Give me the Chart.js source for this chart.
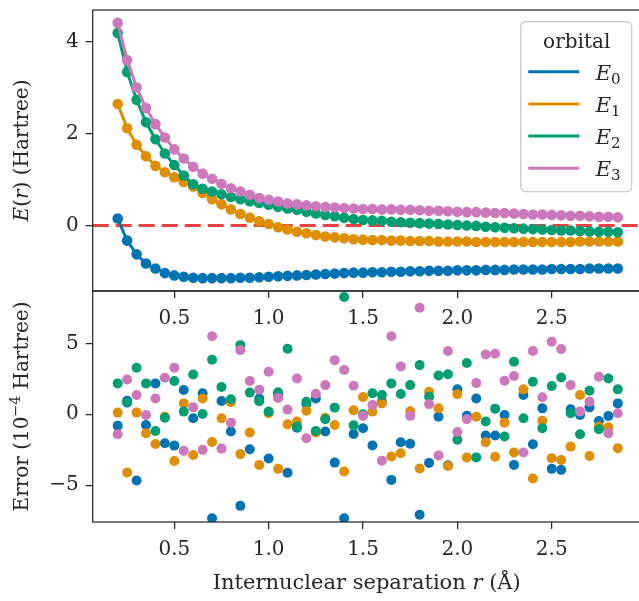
<!DOCTYPE html>
<html><head><meta charset="utf-8">
<script src="https://cdn.jsdelivr.net/npm/chart.js@4/dist/chart.umd.min.js"></script>
<style>
html,body{margin:0;padding:0;background:#fff;}
#wrap{position:relative;width:639px;height:601px;overflow:hidden;background:#fff;}
#wrap canvas{position:absolute;left:0;top:0;}
</style></head><body>
<div id="wrap">
<canvas id="cb" width="660" height="601"></canvas>
<canvas id="ct" width="660" height="601"></canvas>
</div>
<script>
// ---------------- data ----------------
const separations = [0.20,0.25,0.30,0.35,0.40,0.45,0.50,0.55,0.60,0.65,0.70,0.75,0.80,0.85,0.90,0.95,1.00,1.05,1.10,1.15,1.20,1.25,1.30,1.35,1.40,1.45,1.50,1.55,1.60,1.65,1.70,1.75,1.80,1.85,1.90,1.95,2.00,2.05,2.10,2.15,2.20,2.25,2.30,2.35,2.40,2.45,2.50,2.55,2.60,2.65,2.70,2.75,2.80,2.85];
const seriesLabels = ['0','1','2','3'];
const energyE0 = [0.15,-0.33,-0.63,-0.83,-0.94,-1.04,-1.09,-1.12,-1.14,-1.15,-1.15,-1.15,-1.15,-1.14,-1.14,-1.13,-1.12,-1.11,-1.10,-1.09,-1.08,-1.07,-1.06,-1.05,-1.04,-1.03,-1.03,-1.02,-1.02,-1.01,-1.01,-1.00,-1.00,-0.99,-0.99,-0.99,-0.98,-0.98,-0.98,-0.97,-0.97,-0.97,-0.96,-0.96,-0.96,-0.96,-0.95,-0.95,-0.95,-0.95,-0.94,-0.94,-0.94,-0.94];
const energyE1 = [2.65,2.12,1.76,1.51,1.30,1.16,1.05,0.95,0.85,0.71,0.57,0.46,0.35,0.25,0.17,0.09,0.03,-0.04,-0.09,-0.14,-0.17,-0.21,-0.24,-0.26,-0.28,-0.30,-0.31,-0.32,-0.32,-0.33,-0.33,-0.34,-0.34,-0.34,-0.35,-0.35,-0.35,-0.35,-0.36,-0.36,-0.36,-0.36,-0.36,-0.36,-0.36,-0.36,-0.36,-0.36,-0.36,-0.35,-0.35,-0.35,-0.35,-0.35];
const energyE2 = [4.20,3.35,2.74,2.25,1.88,1.57,1.32,1.09,0.90,0.80,0.74,0.68,0.62,0.57,0.53,0.49,0.45,0.41,0.37,0.34,0.30,0.26,0.23,0.20,0.17,0.14,0.12,0.11,0.10,0.08,0.07,0.06,0.05,0.04,0.03,0.02,0.01,0.00,-0.01,-0.03,-0.04,-0.05,-0.06,-0.07,-0.08,-0.09,-0.10,-0.11,-0.11,-0.12,-0.13,-0.14,-0.14,-0.15];
const energyE3 = [4.42,3.61,3.01,2.56,2.21,1.92,1.66,1.46,1.28,1.13,1.02,0.91,0.81,0.74,0.67,0.60,0.56,0.52,0.48,0.46,0.44,0.42,0.40,0.39,0.38,0.37,0.36,0.36,0.35,0.35,0.34,0.34,0.33,0.32,0.32,0.31,0.30,0.29,0.29,0.28,0.27,0.27,0.26,0.25,0.24,0.24,0.23,0.22,0.21,0.21,0.20,0.19,0.19,0.18];
const errorE0 = [-0.80,0.96,-4.67,-0.75,2.18,-2.04,-2.21,1.71,-0.28,1.48,-7.33,0.94,-1.22,-6.46,-2.47,1.12,-3.12,1.40,-4.13,-0.95,0.73,1.12,-1.22,-3.41,-7.33,-1.39,-0.99,-2.20,0.90,-4.63,-1.97,-2.08,-7.09,-3.43,-0.17,-3.60,1.77,-0.11,1.12,-1.50,-1.50,-0.05,-3.57,1.36,-2.11,0.42,-3.85,-3.92,0.35,-0.05,0.49,-0.47,-0.12,0.77];
const errorE1 = [0.12,-4.11,0.12,-1.34,-2.09,-0.17,-3.29,0.77,-2.87,1.12,-1.95,-0.28,0.85,-2.81,-1.29,-3.57,0.07,-3.85,-0.71,-0.50,0.25,-1.29,-0.24,-0.75,-4.04,0.28,1.22,0.19,0.77,-2.98,-2.75,0.21,-3.82,1.59,0.42,-3.65,1.42,-3.05,-0.17,-1.97,-3.00,-0.59,-2.70,1.76,-4.53,-0.45,-3.10,-3.22,-2.28,1.36,-2.94,-0.87,-0.92,-2.40];
const errorE2 = [2.18,0.82,3.28,2.18,-1.18,-0.24,2.35,0.19,2.81,0.02,3.85,1.92,1.06,4.88,1.53,0.92,0.19,1.55,4.62,-0.87,0.89,-1.18,-0.35,0.47,8.28,-0.78,0.00,1.48,1.36,2.18,1.43,2.06,3.47,1.24,2.74,2.83,-1.80,3.62,-3.04,-0.50,0.40,-1.57,3.71,-0.28,2.30,-0.99,1.99,2.60,0.07,-1.41,1.67,-1.06,2.53,1.76];
const errorE3 = [-1.41,2.46,1.36,-0.05,1.12,2.58,3.28,-2.58,0.49,-2.51,5.51,-2.42,-0.59,4.53,2.35,1.74,3.00,1.15,0.33,2.53,-1.69,1.45,2.06,3.82,3.12,2.02,-0.11,0.65,-3.27,5.51,3.38,-0.11,7.52,0.72,-2.90,4.46,-1.25,-0.34,2.20,4.22,4.27,2.37,2.70,-2.70,4.46,1.20,5.12,4.60,2.06,0.19,0.89,2.65,-1.34,0.07];
const xTickValues = [0.5,1.0,1.5,2.0,2.5];
const energyTickValues = [0,2,4];
const errorTickValues = [-5,0,5];
const referenceLevel = 0;
const legendTitle = 'orbital';

// ---------------- style ----------------
const FAM = "'DejaVu Serif'";
const INK = '#262626';
const palette = ['#0173b2','#de8f05','#029e73','#cc78bc'];
const X_MIN = 0.0675, X_MAX = 2.9825;
const TOP_Y = [-1.43, 4.70];
const BOT_Y = [-7.6, 8.7];
const AREA_LEFT = 92.7, RIGHT_PAD = 17.2;
const TICK_FONT = {family: FAM, size: 20};

function drawRich(ctx, runs, x, y, align) {
  let w = 0;
  runs.forEach(r => { ctx.font = r.font; w += ctx.measureText(r.t).width; });
  let cx = align === 'center' ? x - w / 2 : x;
  ctx.textAlign = 'left';
  ctx.textBaseline = 'alphabetic';
  runs.forEach(r => { ctx.font = r.font; ctx.fillText(r.t, cx, y + (r.dy || 0)); cx += ctx.measureText(r.t).width; });
}
const RM = s => `${s}px ${FAM}`;
const IT = s => `italic ${s}px ${FAM}`;

const fmtNum = v => (v < 0 ? '\u2212' : '') + Math.abs(v);
const zeroPad = s => { s.paddingTop = 0; s.paddingBottom = 0; s.paddingLeft = 0; s.paddingRight = 0; };

function axisX(height, showLabels) {
  return {
    type: 'linear', min: X_MIN, max: X_MAX, position: 'bottom',
    afterBuildTicks: s => { s.ticks = xTickValues.map(v => ({value: v})); },
    afterFit: s => { s.height = height; zeroPad(s); },
    ticks: {display: showLabels, callback: v => v.toFixed(1), font: TICK_FONT, color: INK, padding: 9, maxRotation: 0, autoSkip: false},
    grid: {drawOnChartArea: false, drawTicks: true, tickLength: 7, color: INK, lineWidth: 1.25},
    border: {display: false}
  };
}
function axisY(range, tickVals) {
  return {
    type: 'linear', min: range[0], max: range[1],
    afterBuildTicks: s => { s.ticks = tickVals.map(v => ({value: v})); },
    afterFit: s => { s.width = AREA_LEFT; zeroPad(s); },
    ticks: {callback: v => fmtNum(v), font: TICK_FONT, color: INK, padding: 7},
    grid: {drawOnChartArea: false, drawTicks: true, tickLength: 7, color: INK, lineWidth: 1.25},
    border: {display: false}
  };
}

const framePlugin = {
  id: 'frame',
  afterDatasetsDraw(chart) {
    const a = chart.chartArea, ctx = chart.ctx;
    ctx.save();
    ctx.strokeStyle = INK; ctx.lineWidth = 1.25;
    ctx.strokeRect(a.left, a.top, a.right - a.left, a.bottom - a.top);
    ctx.restore();
  }
};

const zeroLinePlugin = {
  id: 'zeroLine',
  beforeDatasetsDraw(chart) {
    const a = chart.chartArea, ctx = chart.ctx;
    const y = chart.scales.y.getPixelForValue(referenceLevel);
    ctx.save();
    ctx.strokeStyle = '#ea4242'; ctx.lineWidth = 3; ctx.setLineDash([16, 7]);
    ctx.beginPath(); ctx.moveTo(a.left, y); ctx.lineTo(a.right, y); ctx.stroke();
    ctx.restore();
  }
};

const legendPlugin = {
  id: 'orbLegend',
  afterDraw(chart) {
    const a = chart.chartArea, ctx = chart.ctx;
    const w = 111, h = 170;
    const x0 = a.right - 11.1 - w, y0 = a.top + 11.7;
    ctx.save();
    ctx.beginPath();
    if (ctx.roundRect) ctx.roundRect(x0, y0, w, h, 5); else ctx.rect(x0, y0, w, h);
    ctx.fillStyle = 'rgba(255,255,255,0.8)'; ctx.fill();
    ctx.strokeStyle = '#cccccc'; ctx.lineWidth = 1.3; ctx.stroke();
    ctx.fillStyle = INK;
    drawRich(ctx, [{t: legendTitle, font: RM(20)}], x0 + w / 2 + 0.5, y0 + 26.5, 'center');
    chart.data.datasets.forEach((ds, i) => {
      const yy = y0 + 50 + i * 32.2;
      ctx.strokeStyle = ds.borderColor; ctx.lineWidth = 3; ctx.setLineDash([]);
      ctx.beginPath(); ctx.moveTo(x0 + 7.6, yy); ctx.lineTo(x0 + 58.6, yy); ctx.stroke();
      ctx.fillStyle = INK;
      drawRich(ctx, [{t: 'E', font: IT(21)}, {t: ds.label, font: RM(15), dy: 4}], x0 + 75, yy + 8, 'left');
    });
    ctx.restore();
  }
};

const titlesTop = {
  id: 'titlesTop',
  afterDraw(chart) {
    const a = chart.chartArea, ctx = chart.ctx;
    ctx.save();
    ctx.fillStyle = INK;
    ctx.translate(28, (a.top + a.bottom) / 2);
    ctx.rotate(-Math.PI / 2);
    drawRich(ctx, [{t: 'E', font: IT(20)}, {t: '(', font: RM(20)}, {t: 'r', font: IT(20)}, {t: ')', font: RM(20)}, {t: ' (Hartree)', font: RM(20)}], 0, 0, 'center');
    ctx.restore();
  }
};
const titlesBottom = {
  id: 'titlesBottom',
  afterDraw(chart) {
    const a = chart.chartArea, ctx = chart.ctx;
    ctx.save();
    ctx.fillStyle = INK;
    drawRich(ctx, [{t: 'Internuclear separation ', font: RM(21)}, {t: 'r', font: IT(21)}, {t: ' (\u00C5)', font: RM(21)}], (a.left + a.right) / 2 - 1, 589, 'center');
    ctx.translate(28, (a.top + a.bottom) / 2);
    ctx.rotate(-Math.PI / 2);
    drawRich(ctx, [{t: 'Error (10', font: RM(20)}, {t: '\u22124', font: RM(14), dy: -8}, {t: ' Hartree)', font: RM(20)}], 0, 0, 'center');
    ctx.restore();
  }
};

const energies = [energyE0, energyE1, energyE2, energyE3];
const errors = [errorE0, errorE1, errorE2, errorE3];

// bottom panel (errors)
new Chart(document.getElementById('cb'), {
  type: 'scatter',
  data: {
    datasets: errors.map((arr, i) => ({
      label: seriesLabels[i],
      data: separations.map((x, k) => ({x: x, y: arr[k]})),
      backgroundColor: palette[i], borderColor: palette[i],
      pointRadius: 5, pointHoverRadius: 5, pointBorderWidth: 0, showLine: false,
      order: 3 - i
    }))
  },
  options: {
    responsive: false, animation: false, events: [],
    layout: {padding: {left: 0, right: RIGHT_PAD, top: 291, bottom: 0}},
    plugins: {legend: {display: false}, tooltip: {enabled: false}},
    scales: {x: axisX(79, true), y: axisY(BOT_Y, errorTickValues)}
  },
  plugins: [framePlugin, titlesBottom, {id: 'bg', beforeDraw(c) { const ctx = c.ctx; ctx.save(); ctx.fillStyle = '#fff'; ctx.fillRect(0, 0, c.width, c.height); ctx.restore(); }}]
});

// top panel (energies)
new Chart(document.getElementById('ct'), {
  type: 'line',
  data: {
    datasets: energies.map((arr, i) => ({
      label: seriesLabels[i],
      data: separations.map((x, k) => ({x: x, y: arr[k]})),
      borderColor: palette[i], backgroundColor: palette[i],
      borderWidth: 3, pointRadius: 5.3, pointHoverRadius: 5.3, pointBorderWidth: 0,
      tension: 0, fill: false, order: 3 - i
    }))
  },
  options: {
    responsive: false, animation: false, events: [],
    layout: {padding: {left: 0, right: RIGHT_PAD, top: 10, bottom: 0}},
    plugins: {legend: {display: false}, tooltip: {enabled: false}},
    scales: {x: axisX(310, true), y: axisY(TOP_Y, energyTickValues)}
  },
  plugins: [zeroLinePlugin, framePlugin, legendPlugin, titlesTop]
});
</script>
</body></html>
